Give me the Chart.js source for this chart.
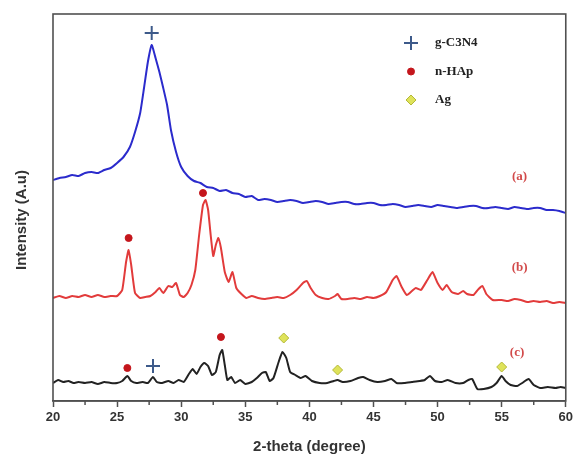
<!DOCTYPE html>
<html>

<head>
  <title>XRD patterns</title>
  <script src="https://cdn.jsdelivr.net/npm/chart.js"></script>
  <style>
    body {
      margin: 0;
      background: #fff;
    }

    #chartContainer {
      width: 576px;
      height: 464px;
    }
  </style>
</head>

<body>
  <div id="chartContainer">
    <canvas id="myChart"></canvas>
  </div>

  <script>
    // curve (a) g-C3N4
    const thetaA = [20, 20.5, 21, 21.5, 22, 22.5, 23, 23.5, 24, 24.5, 25, 25.5, 26, 26.4, 26.8, 27.1, 27.4, 27.7, 28.0, 28.3, 28.6, 28.9, 29.2, 29.6, 30.0, 30.5, 31, 31.5, 32, 32.5, 33, 33.5, 34, 34.5, 35, 35.5, 36, 36.5, 37, 37.5, 38, 38.5, 39, 39.5, 40, 40.5, 41, 41.5, 42, 42.5, 43, 43.5, 44, 44.5, 45, 45.5, 46, 46.5, 47, 47.5, 48, 48.5, 49, 49.5, 50, 50.5, 51, 51.5, 52, 52.5, 53, 53.5, 54, 54.5, 55, 55.5, 56, 56.5, 57, 57.5, 58, 58.5, 59, 59.5, 60];
    const intA = [221, 223, 224, 226, 225, 228, 229, 228, 231, 233, 238, 244, 254, 269, 288, 313, 339, 356, 343, 329, 313, 296, 271, 249, 234, 225, 220, 218, 214, 213, 210, 211, 208, 207, 204, 205, 201, 202, 201, 199, 200, 201, 200, 198, 199, 200, 199, 197, 198, 199, 199, 197, 197, 198, 198, 196, 196, 197, 196, 194, 195, 196, 195, 194, 196, 195, 194, 193, 194, 195, 195, 193, 193, 194, 193, 192, 194, 193, 192, 193, 193, 191, 191, 190, 188];

    // curve (b) n-HAp
    const thetaB = [20, 20.5, 21, 21.5, 22, 22.5, 23, 23.5, 24, 24.5, 25, 25.4, 25.7, 25.9, 26.1, 26.4, 26.8, 27.2, 27.6, 28.0, 28.3, 28.6, 29.0, 29.3, 29.6, 29.9, 30.2, 30.5, 30.8, 31.1, 31.4, 31.7, 31.9, 32.1, 32.3, 32.5, 32.7, 32.9, 33.1, 33.4, 33.7, 34.0, 34.3, 34.7, 35.1, 35.5, 36, 36.5, 37, 37.5, 38, 38.5, 39, 39.5, 39.8, 40.1, 40.5, 41, 41.5, 42, 42.2, 42.5, 43, 43.5, 44, 44.5, 45, 45.5, 46, 46.5, 46.8, 47.2, 47.6, 48, 48.3, 48.7, 49.2, 49.6, 50, 50.4, 50.7, 51.1, 51.6, 52, 52.3, 52.8, 53.2, 53.5, 53.8, 54.3, 55, 55.5, 56, 56.5, 57, 57.5, 58, 58.5, 59, 59.5, 60];
    const intB = [103, 105, 103, 105, 104, 106, 104, 106, 104, 105, 105, 111, 139, 151, 136, 108, 103, 104, 105, 109, 113, 108, 115, 114, 118, 106, 104, 108, 116, 131, 166, 196, 201, 191, 166, 145, 156, 163, 153, 129, 119, 129, 113, 107, 103, 105, 103, 102, 103, 104, 103, 106, 111, 118, 120, 113, 106, 103, 102, 105, 107, 102, 102, 103, 102, 104, 103, 105, 109, 121, 125, 114, 106, 110, 113, 111, 121, 129, 118, 111, 116, 109, 107, 110, 107, 106, 112, 115, 107, 101, 101, 100, 102, 101, 99, 100, 99, 100, 98, 99, 98];

    // curve (c) composite
    const thetaC = [20, 20.4, 20.8, 21.2, 21.6, 22, 22.5, 23, 23.5, 24, 24.5, 25, 25.4, 25.8, 26.1, 26.5, 27, 27.4, 27.8, 28.1, 28.5, 29, 29.4, 29.8, 30.2, 30.6, 30.9, 31.2, 31.5, 31.8, 32.1, 32.4, 32.7, 33.0, 33.2, 33.4, 33.6, 33.9, 34.2, 34.6, 35, 35.5, 35.9, 36.3, 36.6, 36.9, 37.2, 37.6, 37.9, 38.2, 38.5, 38.9, 39.3, 39.7, 40.2, 40.8, 41.4, 41.9, 42.2, 42.6, 43.2, 43.8, 44.2, 44.7, 45.3, 45.9, 46.4, 46.8, 47.4, 48, 48.6, 49.0, 49.4, 49.8, 50.3, 50.8, 51.4, 52, 52.4, 52.7, 53.1, 53.6, 54.2, 54.6, 55.0, 55.3, 55.7, 56.2, 56.6, 57.1, 57.5, 58, 58.6, 59.2, 59.6, 60];
    const intC = [18, 21, 19, 20, 18, 19, 18, 19, 17, 19, 18, 18, 20, 25, 20, 18, 19, 18, 24, 19, 18, 20, 18, 21, 19, 27, 32, 27, 34, 38, 35, 26, 29, 46, 51, 36, 21, 24, 18, 21, 17, 19, 23, 28, 29, 20, 23, 39, 49, 43, 29, 26, 23, 25, 20, 18, 18, 20, 21, 19, 20, 23, 24, 21, 19, 20, 22, 18, 18, 19, 20, 21, 25, 20, 19, 21, 18, 18, 21, 22, 12, 12, 14, 18, 25, 20, 16, 15, 18, 22, 16, 13, 14, 13, 14, 13];

    // peak markers
    const plusTheta = [27.7, 27.8];
    const plusInt = [368, 35];
    const dotTheta = [25.9, 31.7, 25.8, 33.1];
    const dotInt = [163, 208, 33, 64];
    const agTheta = [38.0, 42.2, 55.0];
    const agInt = [63, 31, 34];

    const curveLabels = ['(a)', '(b)', '(c)'];
    const curveLabelTheta = [56.4, 56.4, 56.2];
    const curveLabelInt = [224, 133, 48];

    const legendNames = ['g-C3N4', 'n-HAp', 'Ag'];

    const toPts = (xs, ys) => xs.map((x, i) => ({ x: x, y: ys[i] }));

    const plusStyle = { pointStyle: 'cross', radius: 7, borderColor: '#3d5a8a', backgroundColor: '#3d5a8a', borderWidth: 2 };
    const dotStyle = { pointStyle: 'circle', radius: 3.5, borderColor: '#c4161c', backgroundColor: '#c4161c', borderWidth: 1 };
    const agStyle = { pointStyle: 'rectRot', radius: 5, borderColor: '#b4b838', backgroundColor: '#dfe35a', borderWidth: 1 };

    const extras = {
      id: 'extras',
      afterDraw(chart) {
        const ctx = chart.ctx;
        const a = chart.chartArea;
        const xs = chart.scales.x;
        const ys = chart.scales.y;
        ctx.save();
        // frame
        ctx.strokeStyle = '#505050';
        ctx.lineWidth = 1.6;
        ctx.strokeRect(a.left, a.top, a.right - a.left, a.bottom - a.top);
        // minor ticks
        ctx.lineWidth = 1.5;
        for (let v = 22.5; v < 60; v += 5) {
          const px = xs.getPixelForValue(v);
          ctx.beginPath();
          ctx.moveTo(px, a.bottom);
          ctx.lineTo(px, a.bottom + 4);
          ctx.stroke();
        }
        // curve labels
        ctx.fillStyle = '#d24a4a';
        ctx.font = 'bold 13px "Liberation Serif", serif';
        ctx.textAlign = 'center';
        ctx.textBaseline = 'middle';
        curveLabels.forEach((t, i) => {
          ctx.fillText(t, xs.getPixelForValue(curveLabelTheta[i]), ys.getPixelForValue(curveLabelInt[i]));
        });
        // legend
        const styles = [plusStyle, dotStyle, agStyle];
        ctx.font = 'bold 13px "Liberation Serif", serif';
        ctx.textAlign = 'left';
        legendNames.forEach((name, i) => {
          const st = styles[i];
          const y = a.top + 29 + i * 28.5;
          ctx.fillStyle = st.backgroundColor;
          ctx.strokeStyle = st.borderColor;
          ctx.lineWidth = st.borderWidth;
          Chart.helpers.drawPoint(ctx, { pointStyle: st.pointStyle, radius: st.radius, rotation: 0, borderWidth: st.borderWidth }, 411, y);
          ctx.fillStyle = '#222';
          ctx.fillText(name, 435, y);
        });
        // y title
        ctx.translate(22, 220);
        ctx.rotate(-Math.PI / 2);
        ctx.textAlign = 'center';
        ctx.fillStyle = '#333';
        ctx.font = 'bold 15px "Liberation Sans", Arial, sans-serif';
        ctx.fillText('Intensity (A.u)', 0, 0);
        ctx.restore();
      }
    };

    const lineSet = (pts, color) => ({
      type: 'line',
      data: pts,
      borderColor: color,
      borderWidth: 2,
      pointRadius: 0,
      tension: 0.15,
      fill: false
    });

    const markSet = (pts, st) => ({
      type: 'scatter',
      data: pts,
      pointStyle: st.pointStyle,
      pointRadius: st.radius,
      pointBorderColor: st.borderColor,
      pointBackgroundColor: st.backgroundColor,
      pointBorderWidth: st.borderWidth,
      borderColor: st.borderColor,
      backgroundColor: st.backgroundColor
    });

    new Chart(document.getElementById('myChart').getContext('2d'), {
      type: 'line',
      data: {
        datasets: [
          lineSet(toPts(thetaA, intA), '#2b2bcc'),
          lineSet(toPts(thetaB, intB), '#e23b3b'),
          lineSet(toPts(thetaC, intC), '#222222'),
          markSet(toPts(plusTheta, plusInt), plusStyle),
          markSet(toPts(dotTheta, dotInt), dotStyle),
          markSet(toPts(agTheta, agInt), agStyle)
        ]
      },
      options: {
        responsive: true,
        maintainAspectRatio: false,
        animation: false,
        layout: { padding: { left: 53, top: 14, right: 7, bottom: 0 } },
        plugins: {
          legend: { display: false },
          tooltip: { enabled: false }
        },
        scales: {
          x: {
            type: 'linear',
            min: 20,
            max: 60,
            afterFit: (s) => { s.height = 63; },
            ticks: {
              stepSize: 5,
              padding: 3,
              color: '#333',
              font: { family: '"Liberation Sans", Arial, sans-serif', size: 13, weight: 'bold' }
            },
            grid: {
              drawOnChartArea: false,
              tickLength: 6,
              tickWidth: 1.5,
              tickColor: '#505050'
            },
            border: { display: true, color: '#505050', width: 1.6 },
            title: {
              display: true,
              text: '2-theta (degree)',
              color: '#333',
              font: { family: '"Liberation Sans", Arial, sans-serif', size: 15, weight: 'bold' },
              padding: { top: 0, bottom: 8 }
            }
          },
          y: {
            display: false,
            min: 0,
            max: 387
          }
        }
      },
      plugins: [extras]
    });
  </script>
</body>

</html>
